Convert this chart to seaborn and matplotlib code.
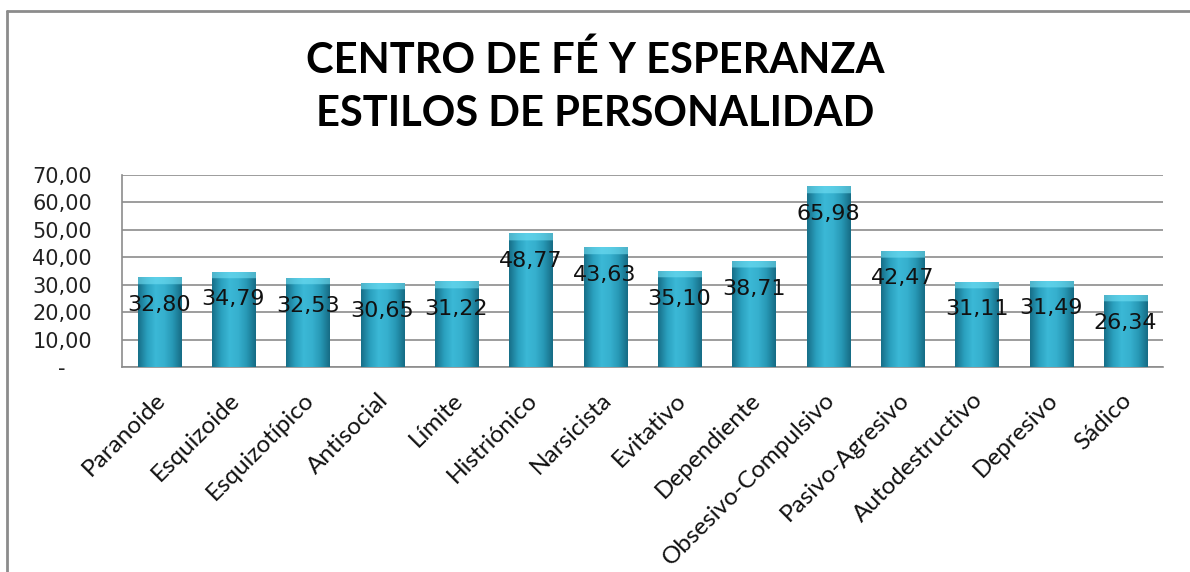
import matplotlib
matplotlib.use("Agg")
import matplotlib.pyplot as plt
import matplotlib.ticker as mticker
import matplotlib.transforms as mtransforms
from matplotlib.lines import Line2D
from matplotlib.colors import LinearSegmentedColormap
import numpy as np
import seaborn as sns

# Data
categories = ["Paranoide", "Esquizoide", "Esquizotípico", "Antisocial", "Límite",
              "Histriónico", "Narsicista", "Evitativo", "Dependiente",
              "Obsesivo-Compulsivo", "Pasivo-Agresivo", "Autodestructivo",
              "Depresivo", "Sádico"]
values = [32.80, 34.79, 32.53, 30.65, 31.22, 48.77, 43.63, 35.10, 38.71,
          65.98, 42.47, 31.11, 31.49, 26.34]
yticks = [0, 10, 20, 30, 40, 50, 60, 70]
title_lines = ["CENTRO DE FÉ Y ESPERANZA", "ESTILOS DE PERSONALIDAD"]

sns.set_style("white")
plt.rcParams["font.family"] = ["DejaVu Sans"]

fig = plt.figure(figsize=(11.9, 5.72), dpi=100)
ax = fig.add_axes([0.1025, 0.3584, 0.8745, 0.3356])

sns.barplot(x=categories, y=values, color="#33AECB", width=0.58, ax=ax,
            edgecolor="none", zorder=3)

# Excel-like bevel shading on each bar
side = LinearSegmentedColormap.from_list(
    "side", ["#176F88", "#2A9FBD", "#3BB8D6", "#36B0CE", "#2797B4", "#166C85"])
for patch in ax.patches:
    x0, y0 = patch.get_x(), patch.get_y()
    w, h = patch.get_width(), patch.get_height()
    grad = np.linspace(0, 1, 64)[None, :]
    rgba = side(np.repeat(grad, 200, axis=0))
    # lighter top strip
    yy = np.linspace(h, 0, 200)
    top = yy > h - 2.6
    rgba[top, :, :3] = rgba[top, :, :3] * 0.4 + np.array([0.45, 0.88, 0.96]) * 0.6
    im = ax.imshow(rgba, extent=[x0, x0 + w, y0, y0 + h], aspect="auto",
                   zorder=3.5, interpolation="bilinear")
    im.set_clip_path(patch)

# Value labels just inside the top of each bar
for patch, v in zip(ax.patches, values):
    ax.annotate(f"{v:.2f}".replace(".", ","),
                xy=(patch.get_x() + patch.get_width() / 2, v),
                xytext=(0, -20), textcoords="offset points",
                ha="center", va="center", fontsize=16, color="#111111", zorder=5)

ax.set_xlim(-0.5, len(categories) - 0.5)
ax.set_ylim(0, 70)
ax.set_yticks(yticks)
ax.yaxis.set_major_formatter(mticker.FuncFormatter(
    lambda y, _: "-    " if y == 0 else f"{y:.2f}".replace(".", ",")))
ax.tick_params(axis="y", labelsize=15, labelcolor="#222222", length=0, pad=21.5)
ax.tick_params(axis="x", length=0, pad=4)
ax.grid(axis="y", color="#8C8C8C", linewidth=1.2, zorder=0)
ax.set_axisbelow(True)
for s in ["top", "right"]:
    ax.spines[s].set_visible(False)
for s in ["left", "bottom"]:
    ax.spines[s].set_color("#8C8C8C")
    ax.spines[s].set_linewidth(1.2)

ax.set_xticks(range(len(categories)))
ax.set_xticklabels(categories, rotation=45, ha="right", va="center",
                   rotation_mode="anchor", fontsize=17.5, family="Lato",
                   color="#111111")
shift = mtransforms.ScaledTranslation(3 / 100, -24 / 100, fig.dpi_scale_trans)
for lbl in ax.get_xticklabels():
    lbl.set_transform(lbl.get_transform() + shift)
ax.set_xlabel("")
ax.set_ylabel("")

# Title
fig.text(0.5, 1 - 60 / 572, title_lines[0], ha="center", va="center",
         fontsize=30, fontweight="bold", family="Lato", color="black")
fig.text(0.5, 1 - 114 / 572, title_lines[1], ha="center", va="center",
         fontsize=30, fontweight="bold", family="Lato", color="black")

# Chart frame (left and top edge visible)
fig.add_artist(Line2D([7 / 1190, 7 / 1190], [0, 1 - 11 / 572],
                      color="#8C8C8C", lw=2, transform=fig.transFigure))
fig.add_artist(Line2D([7 / 1190, 1], [1 - 11 / 572, 1 - 11 / 572],
                      color="#8C8C8C", lw=2, transform=fig.transFigure))

fig.savefig("out.png", dpi=100)
